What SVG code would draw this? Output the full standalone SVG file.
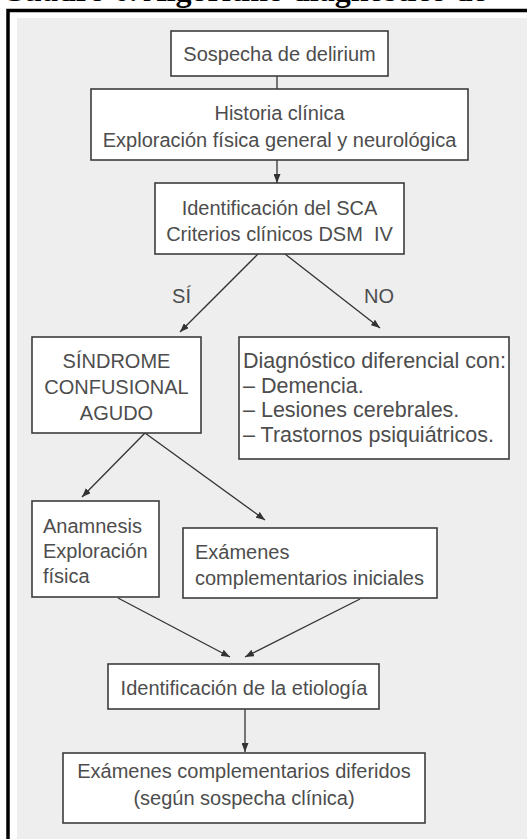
<svg xmlns="http://www.w3.org/2000/svg" width="527" height="839" viewBox="0 0 527 839">
<style>
.box{fill:#ffffff;stroke:#3c3c3c;stroke-width:1.6}
.t{font-family:"Liberation Sans",Arial,sans-serif;font-size:20px;fill:#4d4d4d}
.c{text-anchor:middle}
.con line{stroke:#333333;stroke-width:1.3;fill:none}
.title{font-family:"Liberation Serif","Times New Roman",serif;font-weight:bold;font-size:32px;fill:#000}
</style>
<defs>
<marker id="ah" markerUnits="userSpaceOnUse" markerWidth="9" markerHeight="7" refX="9" refY="3.5" orient="auto">
<path d="M0,0 L9,3.5 L0,7 z" fill="#333333"/>
</marker>
</defs>
<rect x="0" y="0" width="527" height="839" fill="#ffffff"/>
<text class="title" x="1" y="0.5">Cuadro 6. Algoritmo diagnóstico de</text>
<rect x="8" y="10.5" width="600" height="900" fill="#ffffff" stroke="#000000" stroke-width="3.5"/>
<rect x="17" y="18" width="600" height="900" fill="#eeeeee"/>

<g id="connectors" class="con">
<line x1="277" y1="76" x2="277" y2="89"/>
<line x1="277" y1="160" x2="277" y2="183" marker-end="url(#ah)"/>
<line x1="258" y1="254" x2="180" y2="332" marker-end="url(#ah)"/>
<line x1="285" y1="254" x2="380" y2="328" marker-end="url(#ah)"/>
<line x1="145" y1="433" x2="82" y2="497" marker-end="url(#ah)"/>
<line x1="145" y1="433" x2="265" y2="520" marker-end="url(#ah)"/>
<line x1="118" y1="598" x2="230" y2="657" marker-end="url(#ah)"/>
<line x1="360" y1="599" x2="245" y2="657" marker-end="url(#ah)"/>
<line x1="245" y1="709" x2="245" y2="752" marker-end="url(#ah)"/>
<text class="t c" x="181.5" y="303">SÍ</text>
<text class="t c" x="379" y="303">NO</text>
</g>

<g id="n1">
<rect class="box" x="171" y="31" width="217" height="45"/>
<text class="t c" x="279.5" y="61">Sospecha de delirium</text>
</g>
<g id="n2">
<rect class="box" x="91" y="89" width="377" height="71"/>
<text class="t c" x="279.5" y="120">Historia clínica</text>
<text class="t c" x="279.5" y="146.5">Exploración física general y neurológica</text>
</g>
<g id="n3">
<rect class="box" x="155" y="183" width="249" height="71"/>
<text class="t c" x="279.5" y="215">Identificación del SCA</text>
<text class="t c" x="279.5" y="241">Criterios clínicos DSM&#160; IV</text>
</g>
<g id="n4">
<rect class="box" x="32" y="337" width="169" height="96"/>
<text class="t c" x="116.5" y="368">SÍNDROME</text>
<text class="t c" x="116.5" y="394">CONFUSIONAL</text>
<text class="t c" x="116.5" y="420">AGUDO</text>
</g>
<g id="n5">
<rect class="box" x="239" y="337" width="270" height="122"/>
<text class="t" x="243" y="368" style="font-size:21.5px">Diagnóstico diferencial con:</text>
<text class="t" x="243" y="393" style="font-size:21.5px">– Demencia.</text>
<text class="t" x="243" y="417" style="font-size:21.5px">– Lesiones cerebrales.</text>
<text class="t" x="243" y="442" style="font-size:21.5px">– Trastornos psiquiátricos.</text>
</g>
<g id="n6">
<rect class="box" x="32" y="501" width="127" height="96"/>
<text class="t" x="43" y="533">Anamnesis</text>
<text class="t" x="43" y="558">Exploración</text>
<text class="t" x="43" y="583">física</text>
</g>
<g id="n7">
<rect class="box" x="183" y="528" width="254" height="70"/>
<text class="t" x="195" y="559">Exámenes</text>
<text class="t" x="195" y="585">complementarios iniciales</text>
</g>
<g id="n8">
<rect class="box" x="108" y="664" width="271" height="45"/>
<text class="t c" x="244" y="695">Identificación de la etiología</text>
</g>
<g id="n9">
<rect class="box" x="63" y="753" width="362" height="70"/>
<text class="t c" x="244" y="778">Exámenes complementarios diferidos</text>
<text class="t c" x="244" y="805">(según sospecha clínica)</text>
</g>
</svg>
